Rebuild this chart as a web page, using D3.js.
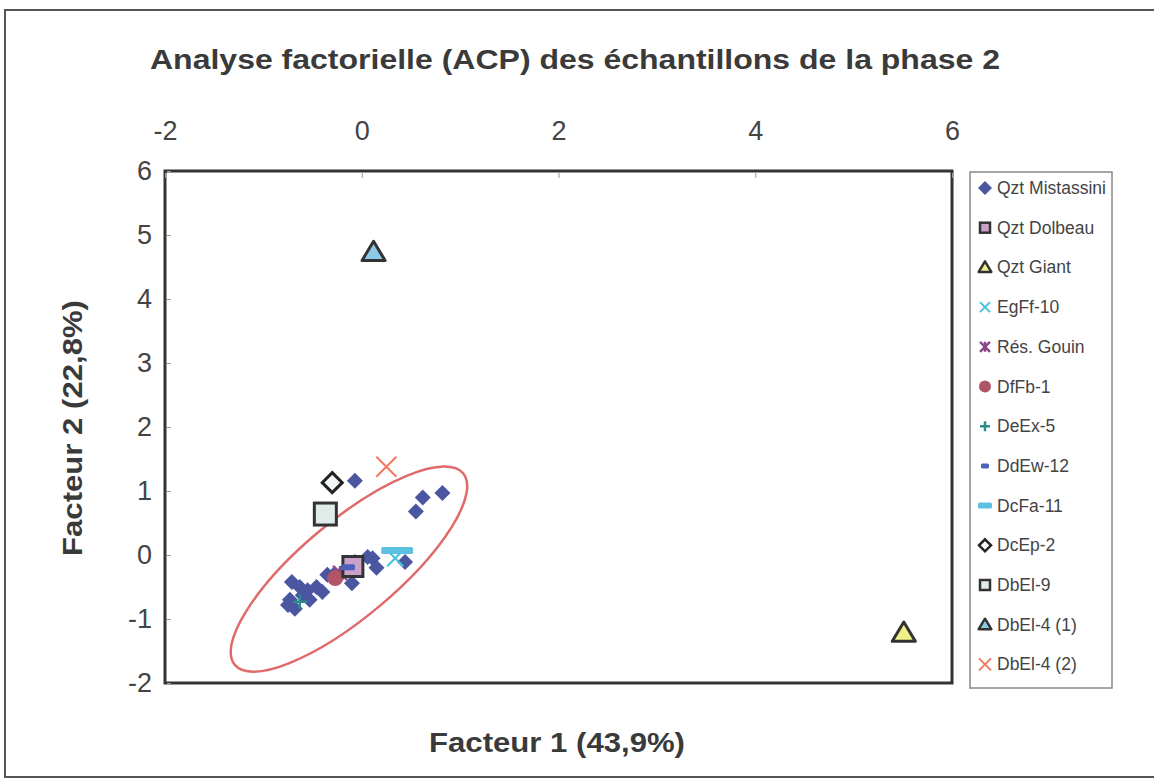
<!DOCTYPE html>
<html><head><meta charset="utf-8">
<script src="https://cdn.jsdelivr.net/npm/d3@7"></script>
<style>body{margin:0;background:#fff}svg{display:block}text{font-family:"Liberation Sans",Arial,sans-serif}</style>
</head><body>
<svg id="c" width="1154" height="784"></svg>
<script>
const title = "Analyse factorielle (ACP) des échantillons de la phase 2";
const xLabel = "Facteur 1 (43,9%)";
const yLabel = "Facteur 2 (22,8%)";
const xTicks = [-2, 0, 2, 4, 6];
const yTicks = [-2, -1, 0, 1, 2, 3, 4, 5, 6];

const seriesNames = ["Qzt Mistassini","Qzt Dolbeau","Qzt Giant","EgFf-10","Rés. Gouin","DfFb-1","DeEx-5","DdEw-12","DcFa-11","DcEp-2","DbEl-9","DbEl-4 (1)","DbEl-4 (2)"];

const qztMistassini = [[-0.07,1.16],[0.82,0.97],[0.62,0.90],[0.55,0.68],
 [-0.71,-0.42],[-0.73,-0.70],[-0.68,-0.84],[-0.63,-0.50],[-0.60,-0.63],[-0.53,-0.70],
 [-0.46,-0.50],[-0.40,-0.58],[-0.35,-0.31],[-0.28,-0.30],[-0.10,-0.44],[-0.07,-0.11],
 [0.06,-0.03],[0.11,-0.05],[0.15,-0.20],[0.44,-0.11],[-0.75,-0.78],[-0.20,-0.28],[-0.55,-0.55]];
const qztDolbeau = [[-0.09,-0.18]];
const qztGiant = [[5.51,-1.22]];
const egFf10 = [[0.34,-0.05]];
const resGouin = [[-0.22,-0.28]];
const dfFb1 = [[-0.27,-0.36]];
const deEx5 = [[-0.63,-0.73]];
const ddEw12 = [[-0.14,-0.19]];
const dcFa11 = [[0.30,0.07],[0.42,0.07]];
const dcEp2 = [[-0.30,1.13]];
const dbEl9 = [[-0.37,0.64]];
const dbEl4a = [[0.12,4.73]];
const dbEl4b = [[0.25,1.38]];
// confidence ellipse: centre in data units
const ellipseCentre = [-0.13,-0.22];

const W = 1154, H = 784;
const plot = {l:165, r:952, t:171, b:683};
const x = d3.scaleLinear().domain([-2,6]).range([plot.l, plot.r]);
const y = d3.scaleLinear().domain([-2,6]).range([plot.b, plot.t]);
const svg = d3.select("#c");

// outer chart border
svg.append("rect").attr("x",5).attr("y",10).attr("width",1165).attr("height",767)
  .attr("fill","#fff").attr("stroke","#555").attr("stroke-width",2);

svg.append("text").attr("x",575).attr("y",69).attr("text-anchor","middle")
  .attr("font-size",28).attr("font-weight","bold").attr("fill","#3a3a3a")
  .attr("textLength",850).attr("lengthAdjust","spacingAndGlyphs").text(title);

// plot frame
svg.append("rect").attr("x",plot.l).attr("y",plot.t).attr("width",plot.r-plot.l).attr("height",plot.b-plot.t)
  .attr("fill","#fff").attr("stroke","#333").attr("stroke-width",3);

const fmt = d => String(d);
// axes: x on top, y on left, ticks inside
const xAxis = d3.axisTop(x).tickValues(xTicks).tickSize(0).tickPadding(0).tickFormat(fmt);
const gx = svg.append("g").attr("transform",`translate(0,${plot.t})`).call(xAxis);
gx.select(".domain").remove();
gx.selectAll("text").attr("font-size",27).attr("fill","#444").attr("y",-31)
  .attr("font-family","Liberation Sans, Arial");
gx.selectAll(".tick").append("line").attr("y1",2).attr("y2",7).attr("stroke","#999");
const yAxis = d3.axisLeft(y).tickValues(yTicks).tickSize(0).tickPadding(13).tickFormat(fmt);
const gy = svg.append("g").attr("transform",`translate(${plot.l},0)`).call(yAxis);
gy.select(".domain").remove();
gy.selectAll("text").attr("font-size",27).attr("fill","#444").attr("font-family","Liberation Sans, Arial");
gy.selectAll(".tick").append("line").attr("x1",2).attr("x2",6).attr("stroke","#999");

svg.append("text").attr("x",557).attr("y",752).attr("text-anchor","middle")
  .attr("font-size",28).attr("font-weight","bold").attr("fill","#3a3a3a")
  .attr("textLength",256).attr("lengthAdjust","spacingAndGlyphs").text(xLabel);
svg.append("text").attr("transform",`translate(82,428) rotate(-90)`).attr("text-anchor","middle")
  .attr("font-size",28).attr("font-weight","bold").attr("fill","#3a3a3a")
  .attr("textLength",256).attr("lengthAdjust","spacingAndGlyphs").text(yLabel);

// ellipse
const ec = [x(ellipseCentre[0]), y(ellipseCentre[1])];
svg.append("ellipse").attr("cx",0).attr("cy",0).attr("rx",149).attr("ry",48)
  .attr("transform",`translate(${ec[0]},${ec[1]}) rotate(-40)`)
  .attr("fill","none").attr("stroke","#e06a6a").attr("stroke-width",2.5);

// marker drawing functions
function diamond(g,s,fill,stroke,sw){g.append("path").attr("d",`M0,${-s}L${s},0L0,${s}L${-s},0Z`).attr("fill",fill).attr("stroke",stroke||"none").attr("stroke-width",sw||0);}
function square(g,s,fill,stroke,sw){g.append("rect").attr("x",-s).attr("y",-s).attr("width",2*s).attr("height",2*s).attr("fill",fill).attr("stroke",stroke).attr("stroke-width",sw);}
function tri(g,s,fill,stroke,sw){g.append("path").attr("d",`M0,${-s}L${s*1.05},${s*0.75}L${-s*1.05},${s*0.75}Z`).attr("fill",fill).attr("stroke",stroke).attr("stroke-width",sw).attr("stroke-linejoin","round");}
function cross(g,s,col,sw){g.append("path").attr("d",`M${-s},${-s}L${s},${s}M${-s},${s}L${s},${-s}`).attr("stroke",col).attr("stroke-width",sw);}
function star(g,s,col,sw){g.append("path").attr("d",`M${-s},${-s}L${s},${s}M${-s},${s}L${s},${-s}M0,${-s}L0,${s}`).attr("stroke",col).attr("stroke-width",sw);}
function plus(g,s,col,sw){g.append("path").attr("d",`M${-s},0L${s},0M0,${-s}L0,${s}`).attr("stroke",col).attr("stroke-width",sw);}
function circle(g,s,fill){g.append("circle").attr("r",s).attr("fill",fill);}
function dash(g,w,h,fill){g.append("rect").attr("x",-w).attr("y",-h).attr("width",2*w).attr("height",2*h).attr("fill",fill).attr("rx",1.5);}

const styles = {
 "Qzt Mistassini": {data:qztMistassini, draw:(g,l)=>diamond(g,l?7:8,"#4b56a0")},
 "Qzt Dolbeau": {data:qztDolbeau, draw:(g,l)=>square(g,l?5:10,"#c9a1c9","#333",l?2.5:3)},
 "Qzt Giant": {data:qztGiant, draw:(g,l)=>tri(g,l?6:11,"#eef088","#333",l?2.5:3)},
 "EgFf-10": {data:egFf10, draw:(g,l)=>cross(g,l?5:8,"#45c3dd",2)},
 "Rés. Gouin": {data:resGouin, draw:(g,l)=>star(g,l?5:7,"#8a4a8a",2.5)},
 "DfFb-1": {data:dfFb1, draw:(g,l)=>circle(g,l?6:8,"#b05468")},
 "DeEx-5": {data:deEx5, draw:(g,l)=>plus(g,l?5:7,"#2a8c8c",2.5)},
 "DdEw-12": {data:ddEw12, draw:(g,l)=>dash(g,l?4:7,l?2.5:3,"#4a62b8")},
 "DcFa-11": {data:dcFa11, draw:(g,l)=>dash(g,l?7:10,l?3:3.5,"#5cc0e0")},
 "DcEp-2": {data:dcEp2, draw:(g,l)=>diamond(g,l?6:10,"#f4f8f8","#222",l?2.5:3)},
 "DbEl-9": {data:dbEl9, draw:(g,l)=>square(g,l?5:11,"#e0ece8","#333",l?2.5:3)},
 "DbEl-4 (1)": {data:dbEl4a, draw:(g,l)=>tri(g,l?6:11,"#8ccbe8","#333",l?2.5:3)},
 "DbEl-4 (2)": {data:dbEl4b, draw:(g,l)=>cross(g,l?6:10,"#f07a60",2)}
};

const order = ["Qzt Mistassini","DbEl-9","DcEp-2","DbEl-4 (1)","DbEl-4 (2)","Qzt Giant","EgFf-10","DcFa-11","Rés. Gouin","DfFb-1","DeEx-5","Qzt Dolbeau","DdEw-12"];
order.forEach(name=>{
  const st = styles[name];
  st.data.forEach(d=>{
    const g = svg.append("g").attr("transform",`translate(${x(d[0])},${y(d[1])})`);
    st.draw(g,false);
  });
});

// legend
const lg = svg.append("g");
lg.append("rect").attr("x",970).attr("y",172).attr("width",142).attr("height",516)
  .attr("fill","#fff").attr("stroke","#888").attr("stroke-width",1.5);
seriesNames.forEach((name,i)=>{
  const yy = 188 + i*39.7;
  const g = lg.append("g").attr("transform",`translate(985,${yy})`);
  styles[name].draw(g,true);
  lg.append("text").attr("x",997).attr("y",yy+6).attr("font-size",17.5).attr("fill","#444")
    .text(name);
});
</script>
</body></html>
